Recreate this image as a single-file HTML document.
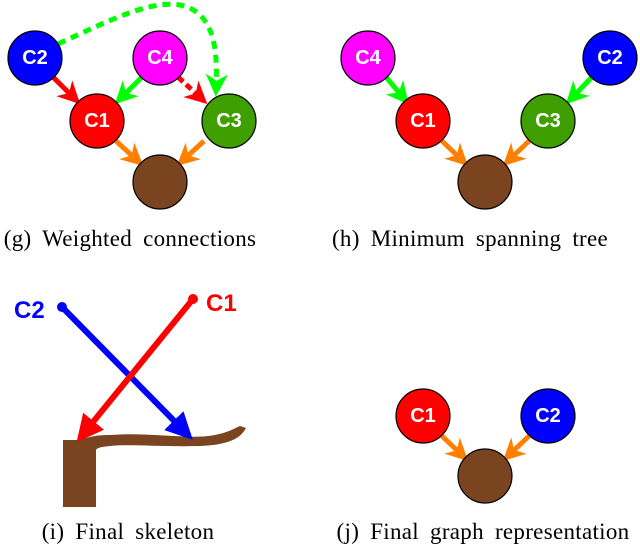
<!DOCTYPE html>
<html><head><style>
body{margin:0;background:#fff;}
svg{display:block;}
text.c{font-family:"Liberation Sans",sans-serif;font-weight:bold;font-size:20px;fill:#fff;text-anchor:middle;dominant-baseline:central;}
text.cap{font-family:"Liberation Serif",serif;font-size:23px;letter-spacing:0.3px;word-spacing:5px;fill:#000;text-anchor:middle;}
</style></head><body>
<svg width="640" height="549" viewBox="0 0 640 549">
<defs>
<marker id="mr" viewBox="0 0 10 10" refX="8" refY="5" markerWidth="4.5" markerHeight="4.5" orient="auto" markerUnits="strokeWidth"><path d="M0,0 L10,5 L0,10 L3,5z" fill="#f00"/></marker>
<marker id="mg" viewBox="0 0 10 10" refX="8" refY="5" markerWidth="4.5" markerHeight="4.5" orient="auto" markerUnits="strokeWidth"><path d="M0,0 L10,5 L0,10 L3,5z" fill="#0f0"/></marker>
<marker id="mo" viewBox="0 0 10 10" refX="8" refY="5" markerWidth="4.5" markerHeight="4.5" orient="auto" markerUnits="strokeWidth"><path d="M0,0 L10,5 L0,10 L3,5z" fill="#ff8000"/></marker>
<marker id="mb" viewBox="0 0 10 10" refX="8" refY="5" markerWidth="4.5" markerHeight="4.5" orient="auto" markerUnits="strokeWidth"><path d="M0,0 L10,5 L0,10z" fill="#00f"/></marker>
<marker id="mr2" viewBox="0 0 10 10" refX="8" refY="5" markerWidth="4.5" markerHeight="4.5" orient="auto" markerUnits="strokeWidth"><path d="M0,0 L10,5 L0,10z" fill="#f00"/></marker>
</defs>
<!-- (g) -->
<path d="M58,44 C110,20 150,0 180,5 C215,12 218,50 216,92" fill="none" stroke="#0f0" stroke-width="5" stroke-dasharray="8,6" marker-end="url(#mg)"/>
<line x1="53" y1="77" x2="77" y2="101" stroke="#f00" stroke-width="5" marker-end="url(#mr)"/>
<line x1="142" y1="77" x2="118" y2="101" stroke="#0f0" stroke-width="5" marker-end="url(#mg)"/>
<line x1="178" y1="77" x2="204" y2="101" stroke="#f00" stroke-width="5" stroke-dasharray="7,4" marker-end="url(#mr)"/>
<line x1="116" y1="141" x2="140" y2="163" stroke="#ff8000" stroke-width="5" marker-end="url(#mo)"/>
<line x1="204" y1="141" x2="180" y2="163" stroke="#ff8000" stroke-width="5" marker-end="url(#mo)"/>
<g stroke="#000" stroke-width="1.2">
<circle cx="35" cy="58" r="27" fill="#00f"/><circle cx="160" cy="58" r="27" fill="#f0f"/>
<circle cx="97" cy="121" r="27" fill="#f00"/><circle cx="229" cy="121" r="27" fill="#3f9f00"/>
<circle cx="160" cy="182" r="27" fill="#7a4420"/></g>
<text class="c" x="35" y="58">C2</text><text class="c" x="160" y="58">C4</text>
<text class="c" x="97" y="121">C1</text><text class="c" x="229" y="121">C3</text>
<text class="cap" x="130" y="246">(g) Weighted connections</text>
<!-- (h) -->
<line x1="386" y1="77" x2="406" y2="101" stroke="#0f0" stroke-width="5" marker-end="url(#mg)"/>
<line x1="592" y1="77" x2="569" y2="101" stroke="#0f0" stroke-width="5" marker-end="url(#mg)"/>
<line x1="442" y1="141" x2="465" y2="163" stroke="#ff8000" stroke-width="5" marker-end="url(#mo)"/>
<line x1="529" y1="141" x2="506" y2="163" stroke="#ff8000" stroke-width="5" marker-end="url(#mo)"/>
<g stroke="#000" stroke-width="1.2">
<circle cx="368" cy="58" r="27" fill="#f0f"/><circle cx="610" cy="58" r="27" fill="#00f"/>
<circle cx="423" cy="121" r="27" fill="#f00"/><circle cx="548" cy="121" r="27" fill="#3f9f00"/>
<circle cx="485" cy="182" r="27" fill="#7a4420"/></g>
<text class="c" x="368" y="58">C4</text><text class="c" x="610" y="58">C2</text>
<text class="c" x="423" y="121">C1</text><text class="c" x="548" y="121">C3</text>
<text class="cap" x="470" y="246">(h) Minimum spanning tree</text>
<!-- (i) -->
<path d="M63,440 L78,440 C90,437 95,435 110,435 C150,432 190,440 215,435 C230,432 237,427 240,426 L246,428 C240,440 225,445 200,446 C160,447 130,444 110,446 C100,447 97,448 96,450 L96,507 L63,507 Z" fill="#7a4420"/>
<line x1="62" y1="307" x2="189" y2="436" stroke="#00f" stroke-width="6" marker-end="url(#mb)"/>
<line x1="193" y1="299" x2="80" y2="438" stroke="#f00" stroke-width="6" marker-end="url(#mr2)"/>
<circle cx="62" cy="307" r="5" fill="#00f"/><circle cx="193" cy="299" r="5" fill="#f00"/>
<text x="14" y="318" font-family="Liberation Sans,sans-serif" font-weight="bold" font-size="24" fill="#00f">C2</text>
<text x="206" y="311" font-family="Liberation Sans,sans-serif" font-weight="bold" font-size="24" fill="#f00">C1</text>
<text class="cap" x="128" y="539">(i) Final skeleton</text>
<!-- (j) -->
<line x1="442" y1="436" x2="465" y2="458" stroke="#ff8000" stroke-width="5" marker-end="url(#mo)"/>
<line x1="529" y1="436" x2="506" y2="458" stroke="#ff8000" stroke-width="5" marker-end="url(#mo)"/>
<g stroke="#000" stroke-width="1.2">
<circle cx="423" cy="416" r="27" fill="#f00"/><circle cx="548" cy="416" r="27" fill="#00f"/>
<circle cx="485" cy="476" r="27" fill="#7a4420"/></g>
<text class="c" x="423" y="416">C1</text><text class="c" x="548" y="416">C2</text>
<text class="cap" x="483" y="539">(j) Final graph representation</text>
</svg>
</body></html>
